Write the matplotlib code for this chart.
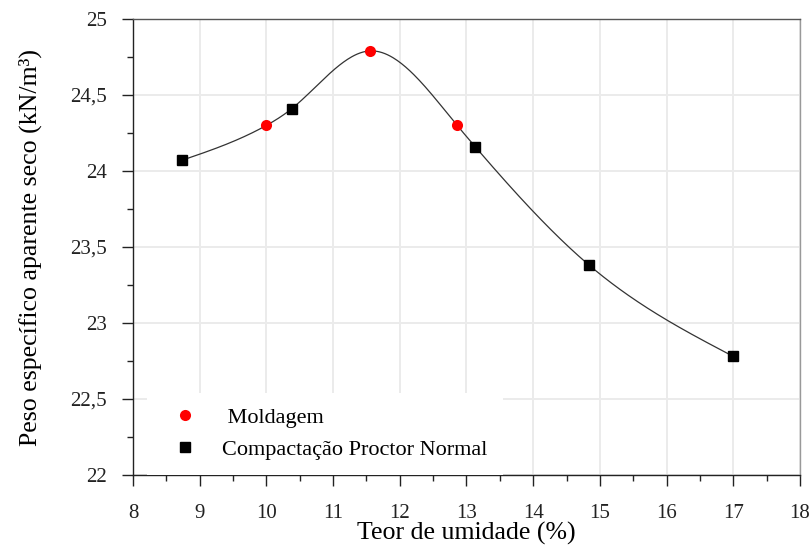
import numpy as np
import matplotlib
matplotlib.use("Agg")
import matplotlib.pyplot as plt
from matplotlib.ticker import MultipleLocator, FuncFormatter

# Data
proctor_x = [8.73, 10.38, 13.13, 14.84, 17.0]
proctor_y = [24.07, 24.41, 24.16, 23.38, 22.78]
molde_x = [10.0, 11.55, 12.86]
molde_y = [24.30, 24.79, 24.30]

plt.rcParams['font.family'] = ['Liberation Serif', 'DejaVu Serif']

def natural_spline(x, y, xs):
    x = np.asarray(x, float); y = np.asarray(y, float)
    n = len(x)
    h = np.diff(x)
    A = np.zeros((n, n)); b = np.zeros(n)
    A[0, 0] = 1; A[-1, -1] = 1
    for i in range(1, n - 1):
        A[i, i - 1] = h[i - 1]
        A[i, i] = 2 * (h[i - 1] + h[i])
        A[i, i + 1] = h[i]
        b[i] = 3 * ((y[i + 1] - y[i]) / h[i] - (y[i] - y[i - 1]) / h[i - 1])
    c = np.linalg.solve(A, b)
    out = np.empty_like(xs)
    for k, xv in enumerate(xs):
        i = min(max(np.searchsorted(x, xv) - 1, 0), n - 2)
        dx = xv - x[i]
        bi = (y[i + 1] - y[i]) / h[i] - h[i] * (2 * c[i] + c[i + 1]) / 3
        di = (c[i + 1] - c[i]) / (3 * h[i])
        out[k] = y[i] + bi * dx + c[i] * dx ** 2 + di * dx ** 3
    return out

allx = np.array(proctor_x + molde_x)
ally = np.array(proctor_y + molde_y)
order = np.argsort(allx)
xs = np.linspace(allx.min(), allx.max(), 400)
ys = natural_spline(allx[order], ally[order], xs)

fig = plt.figure(figsize=(8.12, 5.49), dpi=100)
ax = fig.add_axes([133 / 812, 1 - 475 / 549, 667 / 812, 456 / 549])

ax.plot(xs, ys, color='#333333', lw=0.9, zorder=2)
ax.plot(molde_x, molde_y, 'o', color='#ff0000', ms=8, mec='none', zorder=3, label=' Moldagem')
ax.plot(proctor_x, proctor_y, 's', color='black', ms=7.5, zorder=3, label='Compactação Proctor Normal')

ax.set_xlim(8, 18)
ax.set_ylim(22, 25)
ax.xaxis.set_major_locator(MultipleLocator(1))
ax.xaxis.set_minor_locator(MultipleLocator(0.5))
ax.yaxis.set_major_locator(MultipleLocator(0.5))
ax.yaxis.set_minor_locator(MultipleLocator(0.25))
fmt = FuncFormatter(lambda v, p: ('%g' % v).replace('.', ','))
ax.xaxis.set_major_formatter(fmt)
ax.yaxis.set_major_formatter(fmt)
ax.grid(True, which='major', color='#ebebeb', lw=1.4, zorder=0)
ax.tick_params(which='both', direction='out', labelsize=15, colors='#222222', width=1.0)
ax.tick_params(which='major', length=8)
ax.tick_params(which='minor', length=4.3)
ax.tick_params(axis='x', pad=13)
ax.tick_params(axis='y', pad=11)
for s in ax.spines.values():
    s.set_color('#222222'); s.set_linewidth(1.0)
ax.spines['right'].set_color('#999999')
ax.spines['top'].set_color('#555555')

ax.set_xlabel('Teor de umidade (%)', fontsize=18.6)
ax.set_ylabel('Peso específico aparente seco (kN/m³)', fontsize=18.6)
ax.xaxis.set_label_coords(0.5, -0.103)
ax.yaxis.set_label_coords(-0.136, 0.5)

leg = ax.legend(loc='lower left', bbox_to_anchor=(0.021, 0.0), borderaxespad=0.0,
                frameon=True, fontsize=16, numpoints=1,
                handlelength=2.1, handletextpad=0.6, borderpad=0.68, labelspacing=0.5)
leg.get_frame().set_edgecolor('none')
leg.get_frame().set_facecolor('white')
leg.get_frame().set_alpha(1.0)
leg.get_frame().set_boxstyle('square', pad=0)

fig.savefig('out.png', dpi=100)
